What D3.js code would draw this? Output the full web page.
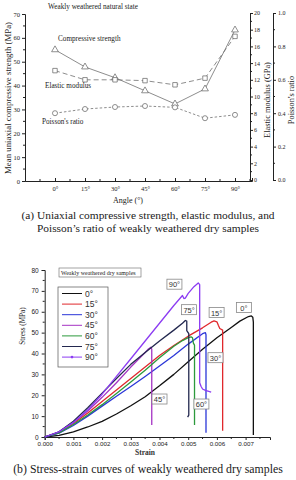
<!DOCTYPE html>
<html>
<head>
<meta charset="utf-8">
<script src="https://cdn.jsdelivr.net/npm/d3@7"></script>
<style>
body { margin: 0; background: #fff; }
svg { display: block; }
</style>
</head>
<body>
<svg id="fig" width="296" height="480"></svg>
<script>
// ---- panel (a) data
const angles = [0, 15, 30, 45, 60, 75, 90];
const strength = [55.0, 47.8, 43.3, 37.8, 32.3, 38.6, 63.3];   // MPa
const modulus = [13.1, 12.0, 12.0, 11.9, 11.4, 12.2, 17.2];    // GPa
const poisson = [0.40, 0.425, 0.437, 0.443, 0.435, 0.37, 0.39];
const strengthTicks = [0, 10, 20, 30, 40, 50, 60, 70];
const modulusTicks = [0, 2, 4, 6, 8, 10, 12, 14, 16, 18, 20];
const poissonTicks = [0, 0.2, 0.4, 0.6, 0.8, 1.0];

// ---- panel (b) data: [strain, stress MPa]
const curveNames = ["0°", "15°", "30°", "45°", "60°", "75°", "90°"];
const strainTicks = [0, 0.001, 0.002, 0.003, 0.004, 0.005, 0.006, 0.007];
const stressTicks = [0, 10, 20, 30, 40, 50, 60, 70, 80];
const curve0 = [[0,0],[0.0005,0.8],[0.001,2.5],[0.0015,4.8],[0.002,7.5],[0.0025,11],[0.003,15],[0.0035,19.3],[0.004,24.5],[0.0045,30],[0.005,36],[0.0055,42],[0.006,47.5],[0.0065,52.5],[0.0068,55.5],[0.0071,57.7],[0.0072,58],[0.00725,57.4],[0.00727,55],[0.00727,1]];
const curve15 = [[0,0],[0.0005,2.2],[0.001,6.5],[0.0015,11.5],[0.002,17],[0.0025,22.5],[0.003,28],[0.0035,33.5],[0.004,39],[0.0045,43.8],[0.005,48.3],[0.0055,52.3],[0.0058,55],[0.0059,55.6],[0.006,55.2],[0.00605,53.5],[0.0061,52],[0.0062,51.2],[0.0062,3]];
const curve30 = [[0,0],[0.0005,1.8],[0.001,5.5],[0.0015,10],[0.002,14.8],[0.0025,19.5],[0.003,24.2],[0.0035,29],[0.004,34],[0.0045,39],[0.005,44.5],[0.0055,49.5],[0.0056,50],[0.00562,49],[0.00562,2]];
const curve45 = [[0,0],[0.0005,2.5],[0.001,7],[0.0015,12.5],[0.002,19],[0.0025,26],[0.003,33.5],[0.0035,40.5],[0.0036,42],[0.0037,43],[0.00373,42],[0.00373,5.7]];
const curve60 = [[0,0],[0.0005,2],[0.001,6],[0.0015,10.5],[0.002,15.5],[0.0025,20.8],[0.003,26.3],[0.0035,32],[0.004,38],[0.0045,43.5],[0.0048,46.2],[0.005,47.6],[0.0051,48],[0.00515,47.5],[0.00518,45],[0.00522,44],[0.00522,5.7]];
const curve75 = [[0,0],[0.0005,2.5],[0.001,7.5],[0.0015,14],[0.002,21],[0.0025,28],[0.003,34.8],[0.0035,40.5],[0.004,46],[0.0045,51.2],[0.0048,54.5],[0.0049,55.8],[0.00495,55.5],[0.00495,51],[0.00502,49.5],[0.00502,10.5],[0.00498,9.5]];
const curve90 = [[0,0],[0.0005,2.5],[0.001,7],[0.0015,13],[0.002,20.5],[0.0025,29],[0.003,37.5],[0.0035,46],[0.004,54.5],[0.0045,63],[0.0048,67.8],[0.00485,66.3],[0.0049,66.5],[0.005,68.8],[0.0052,72],[0.00535,73.8],[0.0054,73],[0.0054,26],[0.00545,24.2],[0.0055,23],[0.0056,22.3],[0.0058,21.5]];
const curves = [curve0, curve15, curve30, curve45, curve60, curve75, curve90];
// where each angle tag sits, in strain/stress units
const tagAt = [[0.00694, 62], [0.00599, 59.6], [0.00595, 38], [0.0040, 18.2], [0.00546, 15.8], [0.00503, 61], [0.00452, 73.2]];

const curveColors = ["#111111", "#e0282c", "#2a36d8", "#a533c4", "#2c9a3c", "#23284f", "#8c3cf2"];
const serif = "'Liberation Serif', 'Times New Roman', serif";
const sans = "'Liberation Sans', Arial, sans-serif";

const svg = d3.select("#fig");

function styleAxis(g, font, size) {
    g.select(".domain").attr("stroke", "#222");
    g.selectAll(".tick line").attr("stroke", "#222");
    g.selectAll("text").style("font-family", font).style("font-size", size + "px").attr("fill", "#222");
}

function minorTicks(g, values, scale, horizontal, len) {
    g.selectAll(null).data(values).enter().append("line")
        .attr("x1", d => horizontal ? scale(d) : 0)
        .attr("x2", d => horizontal ? scale(d) : len)
        .attr("y1", d => horizontal ? 0 : scale(d))
        .attr("y2", d => horizontal ? len : scale(d))
        .attr("stroke", "#222");
}

function drawPanelA() {
    const x = d3.scaleLinear().domain([-15, 98.5]).range([25, 252]);
    const yS = d3.scaleLinear().domain([0, 70]).range([181, 14]);
    const yE = d3.scaleLinear().domain([0, 20]).range([180, 13]);
    const yP = d3.scaleLinear().domain([0, 1]).range([180, 13]);
    const g = svg.append("g");

    const gx = g.append("g").attr("transform", "translate(0,181)")
        .call(d3.axisBottom(x).tickValues(angles).tickFormat(d => d + "°").tickSize(-3).tickPadding(5));
    styleAxis(gx, serif, 6.5);
    minorTicks(gx, angles.map(a => a - 7.5).concat([97.5]), x, true, -2);

    const gl = g.append("g").attr("transform", "translate(25,0)")
        .call(d3.axisLeft(yS).tickValues(strengthTicks).tickSize(3).tickPadding(2));
    styleAxis(gl, serif, 6.5);
    minorTicks(gl, [5, 15, 25, 35, 45, 55, 65], yS, false, -2);

    const ge = g.append("g").attr("transform", "translate(250,0)")
        .call(d3.axisRight(yE).tickValues(modulusTicks).tickSize(3).tickPadding(1));
    styleAxis(ge, serif, 6);
    minorTicks(ge, d3.range(1, 20, 2), yE, false, 2);

    const gp = g.append("g").attr("transform", "translate(273,0)")
        .call(d3.axisRight(yP).tickValues(poissonTicks).tickFormat(d3.format(".1f")).tickSize(3).tickPadding(2));
    styleAxis(gp, serif, 6);
    minorTicks(gp, [0.1, 0.3, 0.5, 0.7, 0.9], yP, false, 2);

    const series = [
        { vals: strength, y: yS, dash: null, sym: d3.symbolTriangle },
        { vals: modulus, y: yE, dash: "5,3", sym: d3.symbolSquare },
        { vals: poisson, y: yP, dash: "2.5,2", sym: d3.symbolCircle },
    ];
    series.forEach(s => {
        const line = d3.line().x((d, i) => x(angles[i])).y(d => s.y(d));
        g.append("path").datum(s.vals).attr("d", line)
            .attr("fill", "none").attr("stroke", "#707070").attr("stroke-width", 0.8)
            .attr("stroke-dasharray", s.dash);
        g.selectAll(null).data(s.vals).enter().append("path")
            .attr("d", d3.symbol().type(s.sym).size(20))
            .attr("transform", (d, i) => `translate(${x(angles[i])},${s.y(d)})`)
            .attr("fill", "#fff").attr("stroke", "#606060").attr("stroke-width", 0.7);
    });

    const txt = (t, xx, yy, size, anchor, rot) => {
        const el = g.append("text").text(t).attr("font-family", serif).attr("font-size", size)
            .attr("fill", "#1a1a1a").attr("text-anchor", anchor || "start");
        if (rot) el.attr("transform", `translate(${xx},${yy}) rotate(-90)`);
        else el.attr("x", xx).attr("y", yy);
    };
    txt("Weakly weathered natural state", 93, 9, 7.2, "middle");
    txt("Compressive strength", 58, 41, 7.2);
    txt("Elastic modulus", 45, 88, 7.2);
    txt("Poisson's ratio", 42, 124, 7.2);
    txt("Mean uniaxial compressive strength (MPa)", 11, 98, 8.8, "middle", true);
    txt("Elastic modulus (GPa)", 270, 100, 8.4, "middle", true);
    txt("Poisson's ratio", 294, 100, 8.4, "middle", true);
    txt("Angle (°)", 128, 203, 8, "middle");
    txt("(a) Uniaxial compressive strength, elastic modulus, and", 148, 219, 11.4, "middle");
    txt("Poisson’s ratio of weakly weathered dry samples", 148, 231.5, 11.4, "middle");
}

function drawPanelB() {
    const x = d3.scaleLinear().domain([0, 0.00785]).range([44.7, 270]);
    const y = d3.scaleLinear().domain([0, 80]).range([437, 270]);
    const g = svg.append("g");

    const gx = g.append("g").attr("transform", "translate(0,437)")
        .call(d3.axisBottom(x).tickValues(strainTicks).tickFormat(d3.format(".3f")).tickSize(3).tickPadding(2));
    styleAxis(gx, sans, 6.2);
    minorTicks(gx, strainTicks.map(v => v + 0.0005), x, true, 2);

    const gy = g.append("g").attr("transform", "translate(44.7,0)")
        .call(d3.axisLeft(y).tickValues(stressTicks).tickSize(3).tickPadding(3));
    styleAxis(gy, sans, 6.5);
    minorTicks(gy, stressTicks.slice(0, -1).map(v => v + 5), y, false, -2);

    const line = d3.line().x(d => x(d[0])).y(d => y(d[1]));
    g.selectAll(".curve").data(curves).enter().append("path")
        .attr("class", "curve").attr("d", line)
        .attr("fill", "none").attr("stroke", (d, i) => curveColors[i])
        .attr("stroke-width", 1.3).attr("stroke-linejoin", "round");

    // angle tags
    const tags = g.selectAll(".tag").data(tagAt).enter().append("g").attr("class", "tag")
        .attr("transform", d => `translate(${x(d[0])},${y(d[1])})`);
    tags.append("rect").attr("x", -7.5).attr("y", -5).attr("width", 15).attr("height", 10)
        .attr("fill", "#fff").attr("stroke", "#888").attr("stroke-width", 0.8);
    tags.append("text").text((d, i) => curveNames[i]).attr("text-anchor", "middle").attr("y", 3)
        .attr("font-family", sans).attr("font-size", 7.5).attr("fill", "#333");

    // legend
    g.append("rect").attr("x", 59).attr("y", 268).attr("width", 82).attr("height", 9)
        .attr("fill", "#fff").attr("stroke", "#666").attr("stroke-width", 0.6);
    g.append("text").text("Weakly weathered dry samples").attr("x", 61).attr("y", 274.8)
        .attr("font-family", serif).attr("font-size", 6).attr("fill", "#222");
    g.append("rect").attr("x", 58).attr("y", 287).attr("width", 50).attr("height", 80)
        .attr("fill", "#fff").attr("stroke", "#555").attr("stroke-width", 0.7);
    const items = g.selectAll(".leg").data(curveNames).enter().append("g").attr("class", "leg")
        .attr("transform", (d, i) => `translate(62,${293.5 + i * 10.6})`);
    items.append("line").attr("x1", 0).attr("x2", 20)
        .attr("stroke", (d, i) => curveColors[i]).attr("stroke-width", 1);
    items.filter((d, i) => i === 6).append("circle").attr("cx", 10).attr("r", 1.3).attr("fill", curveColors[6]);
    items.append("text").text(d => d).attr("x", 23).attr("y", 3)
        .attr("font-family", sans).attr("font-size", 8.5).attr("fill", "#333");

    g.append("text").text("Stress (MPa)").attr("transform", "translate(25,326) rotate(-90)")
        .attr("text-anchor", "middle").attr("font-family", serif).attr("font-size", 7.2).attr("fill", "#222");
    g.append("text").text("Strain").attr("x", 145).attr("y", 455)
        .attr("text-anchor", "middle").attr("font-family", serif).attr("font-size", 7.5)
        .attr("font-weight", "bold").attr("fill", "#333");
    g.append("text").text("(b) Stress-strain curves of weakly weathered dry samples").attr("x", 148).attr("y", 473)
        .attr("text-anchor", "middle").attr("font-family", serif).attr("font-size", 11.8).attr("fill", "#1a1a1a");
}

drawPanelA();
drawPanelB();
</script>
</body>
</html>
